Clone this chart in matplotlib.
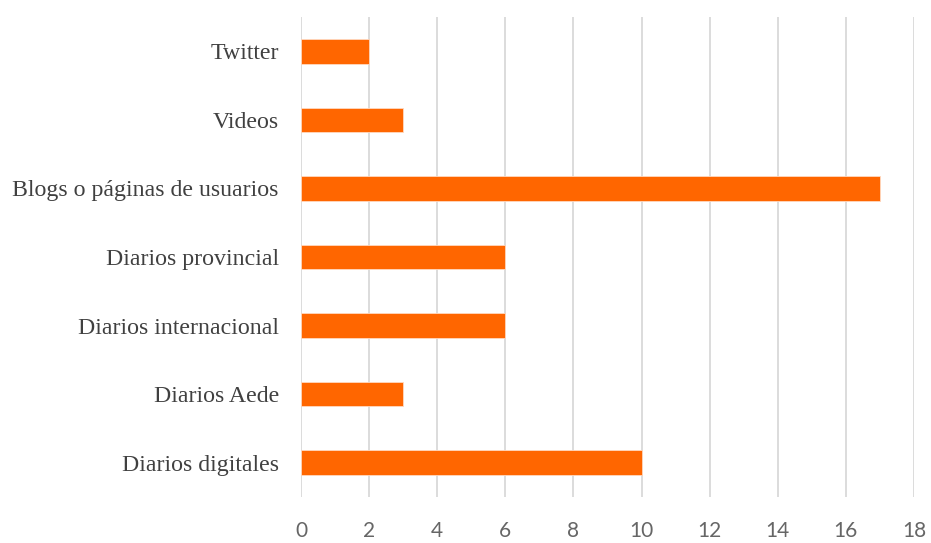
import matplotlib
matplotlib.use("Agg")
import matplotlib.pyplot as plt

categories = ["Diarios digitales", "Diarios Aede", "Diarios internacional",
              "Diarios provincial", "Blogs o páginas de usuarios", "Videos", "Twitter"]
values = [10, 3, 6, 6, 17, 3, 2]
x_ticks = [0, 2, 4, 6, 8, 10, 12, 14, 16, 18]

fig = plt.figure(figsize=(9.31, 5.43), dpi=100)
ax = fig.add_axes([301 / 931, 1 - 497 / 543, (914 - 301) / 931, (497 - 17) / 543])

pos = list(range(len(categories)))
ax.barh(pos, values, height=0.36, color="#FF6600", edgecolor="#FFD9C0",
        linewidth=0.6, zorder=3)

ax.set_xlim(0, 18)
ax.set_ylim(-0.5, len(categories) - 0.5)
ax.set_xticks(x_ticks)
ax.set_xticklabels([str(t) for t in x_ticks], fontfamily="Lato", fontsize=15,
                   color="#666666")
ax.set_yticks(pos)
ax.set_yticklabels(categories, fontfamily="Liberation Serif", fontsize=17.2,
                   color="#404040")
ax.tick_params(axis="both", length=0)
ax.tick_params(axis="x", pad=17)
ax.tick_params(axis="y", pad=16)

ax.grid(axis="x", color="#D9D9D9", linewidth=1.3, zorder=0)
for s in ["top", "right", "bottom", "left"]:
    ax.spines[s].set_visible(False)

fig.savefig("out.png", dpi=100, facecolor="white")
